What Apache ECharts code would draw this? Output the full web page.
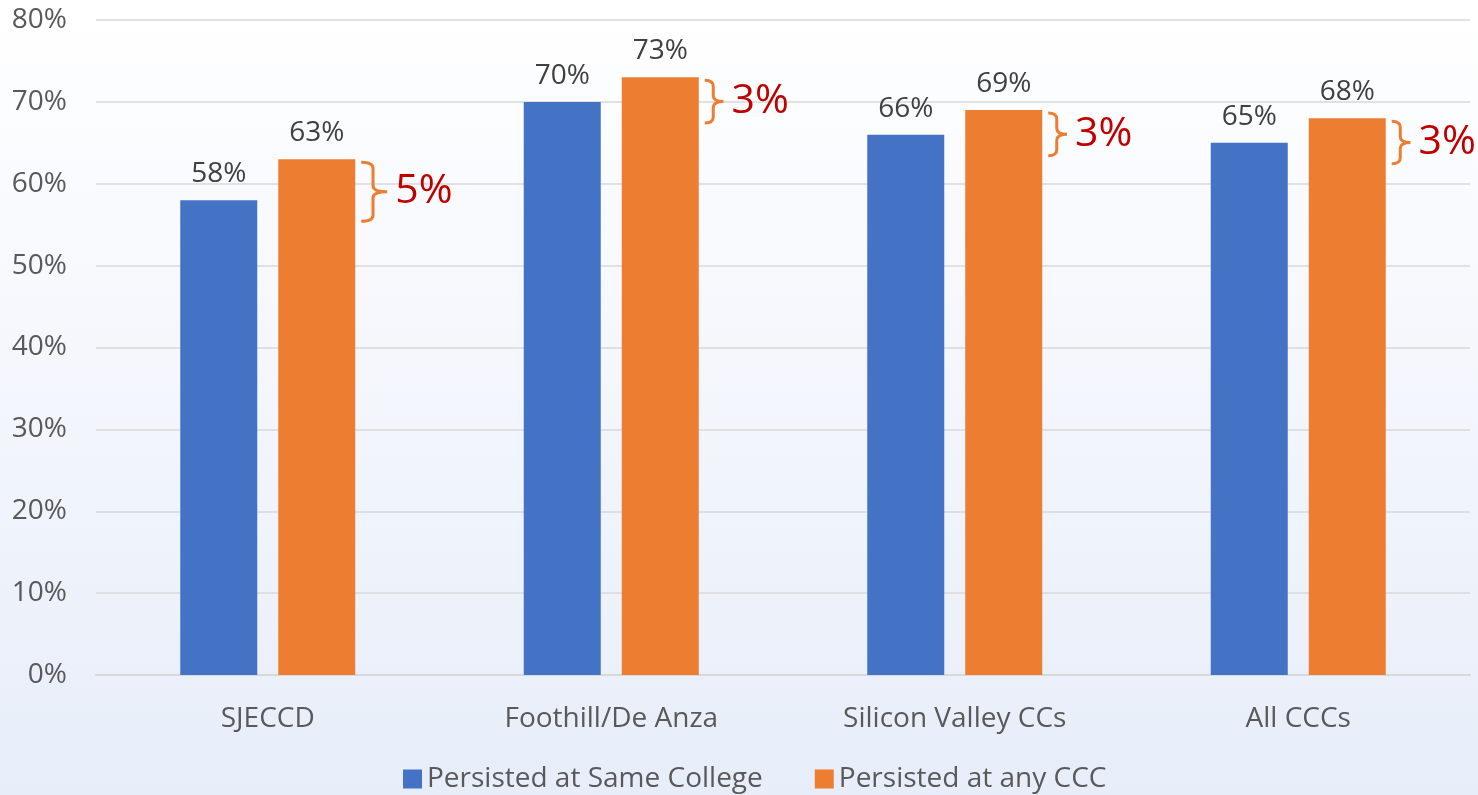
<!DOCTYPE html>
<html>
<head>
<meta charset="utf-8">
<script src="https://cdn.jsdelivr.net/npm/echarts@6/dist/echarts.min.js"></script>
<style>
  html, body { margin: 0; padding: 0; }
  #chart { width: 1478px; height: 795px; }
</style>
</head>
<body>
<div id="chart"></div>
<script>
const categories = ['SJECCD', 'Foothill/De Anza', 'Silicon Valley CCs', 'All CCCs'];
const seriesNames = ['Persisted at Same College', 'Persisted at any CCC'];
const sameCollege = [58, 70, 66, 65];
const anyCCC = [63, 73, 69, 68];
const gapLabels = ['5%', '3%', '3%', '3%'];
const yTicks = [0, 10, 20, 30, 40, 50, 60, 70, 80];

const BAR_W = 77;
const BAR_GAP = 21;
const font = "'Open Sans', 'Noto Sans', sans-serif";
const textColor = '#595959';

const braceData = categories.map((c, i) => [i, anyCCC[i], sameCollege[i], gapLabels[i]]);

function renderBrace(params, api) {
  const idx = api.value(0);
  const top = api.coord([idx, api.value(1)]);
  const low = api.coord([idx, api.value(2)]);
  const yTop = top[1] + 3;
  const yBot = low[1] + 21;
  const h = yBot - yTop;
  const x0 = top[0] + BAR_W + BAR_GAP / 2 + 6;
  const x1 = x0 + h * 0.2;
  const x2 = x1 + h * 0.24;
  const mid = (yTop + yBot) / 2;
  const r = 6;
  const d = `M${x0} ${yTop} Q${x1} ${yTop} ${x1} ${yTop + r} L${x1} ${mid - r} Q${x1} ${mid} ${x2} ${mid}` +
            ` M${x2} ${mid} Q${x1} ${mid} ${x1} ${mid + r} L${x1} ${yBot - r} Q${x1} ${yBot} ${x0} ${yBot}`;
  return {
    type: 'group',
    children: [
      {
        type: 'path',
        shape: { pathData: d },
        style: { fill: null, stroke: '#ed7d31', lineWidth: 3 }
      },
      {
        type: 'text',
        style: {
          x: x2 + 8, y: mid,
          text: api.value(3),
          fill: '#c00000',
          font: `41px ${font}`,
          verticalAlign: 'middle',
          align: 'left'
        }
      }
    ]
  };
}

const chart = echarts.init(document.getElementById('chart'));
chart.setOption({
  backgroundColor: {
    type: 'linear', x: 0, y: 0, x2: 0, y2: 1,
    colorStops: [{ offset: 0, color: '#ffffff' }, { offset: 1, color: '#e7edf9' }]
  },
  animation: false,
  textStyle: { fontFamily: font },
  grid: { left: 96, right: 8, top: 20, bottom: 120, containLabel: false },
  legend: {
    data: seriesNames,
    left: 398, top: 760,
    itemWidth: 19, itemHeight: 19, itemGap: 52,
    icon: 'rect',
    textStyle: { fontSize: 28, color: textColor, fontFamily: font }
  },
  xAxis: {
    type: 'category',
    data: categories,
    axisTick: { show: false },
    axisLine: { lineStyle: { color: '#d9d9d9', width: 2 } },
    axisLabel: { fontSize: 28, color: textColor, margin: 30, fontFamily: font }
  },
  yAxis: {
    type: 'value',
    min: yTicks[0], max: yTicks[yTicks.length - 1], interval: 10,
    axisLine: { show: false },
    axisTick: { show: false },
    splitLine: { lineStyle: { color: '#d9d9d9', width: 1.5 } },
    axisLabel: { formatter: '{value}%', fontSize: 28, color: textColor, margin: 29, fontFamily: font }
  },
  series: [
    {
      name: seriesNames[0], type: 'bar', data: sameCollege,
      barWidth: BAR_W, barGap: (BAR_GAP / BAR_W * 100) + '%',
      itemStyle: { color: '#4472c4' },
      label: { show: true, position: 'top', distance: 12, formatter: '{c}%', fontSize: 28, color: '#404040', fontFamily: font }
    },
    {
      name: seriesNames[1], type: 'bar', data: anyCCC,
      barWidth: BAR_W,
      itemStyle: { color: '#ed7d31' },
      label: { show: true, position: 'top', distance: 12, formatter: '{c}%', fontSize: 28, color: '#404040', fontFamily: font }
    },
    {
      type: 'custom', data: braceData, renderItem: renderBrace,
      clip: false, silent: true, z: 10,
      encode: { x: 0, y: [1, 2] }
    }
  ]
});
</script>
</body>
</html>
